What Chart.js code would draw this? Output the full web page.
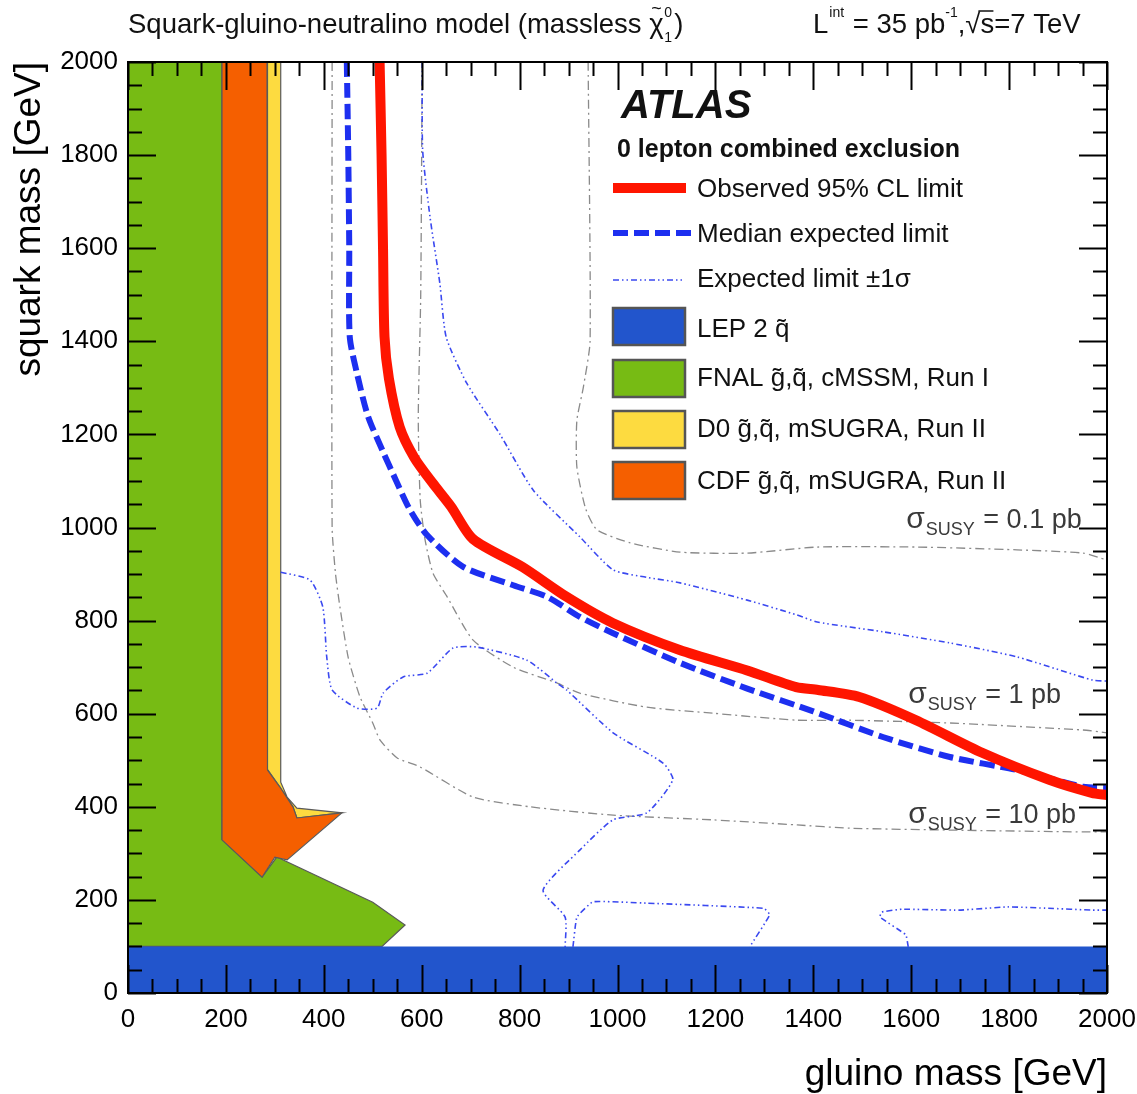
<!DOCTYPE html>
<html lang="en">
<head>
<meta charset="utf-8">
<script src="https://cdn.jsdelivr.net/npm/chart.js@4.4.0/dist/chart.umd.min.js"></script>
<style>
  body { margin: 0; background: #fff; }
</style>
</head>
<body>
<canvas id="c" width="1137" height="1094"></canvas>
<script>
// ---- data (gluino mass x, squark mass y, GeV) ----
// observed 95% CL limit
var obsX = [514, 518, 521, 524, 533, 555, 585, 622, 660, 705, 806, 896, 990, 1127, 1265, 1365, 1410, 1494, 1610, 1745, 1882, 1969, 2000];
var obsY = [2000, 1800, 1600, 1410, 1320, 1216, 1150, 1096, 1045, 975, 915, 851, 795, 737, 693, 657, 651, 636, 586, 516, 458, 430, 425];
// median expected limit
var expX = [447, 450, 452, 453, 468, 490, 520, 548, 575, 610, 684, 787, 856, 923, 991, 1128, 1265, 1400, 1542, 1679, 1816, 1951, 2000];
var expY = [2000, 1800, 1600, 1410, 1330, 1240, 1165, 1100, 1040, 985, 916, 876, 851, 808, 773, 709, 654, 605, 550, 507, 479, 443, 440];
// expected +1 sigma
var upX = [601, 602, 617, 637, 650, 692, 760, 828, 923, 991, 1060, 1128, 1265, 1367, 1408, 1542, 1679, 1816, 1971, 2000];
var upY = [2000, 1810, 1667, 1525, 1409, 1310, 1200, 1080, 980, 909, 893, 881, 844, 812, 797, 776, 752, 722, 672, 670];
// expected -1 sigma (three pieces)
var loX = [312, 372, 398, 406, 417, 468, 509, 521, 562, 611, 664, 713, 815, 876, 896, 991, 1093, 1113, 1060, 991, 923, 848, 893, 893];
var loY = [904, 887, 829, 722, 651, 612, 612, 644, 679, 687, 741, 743, 715, 666, 651, 559, 494, 458, 387, 372, 307, 221, 163, 99];
var lo2X = [909, 917, 950, 1060, 1299, 1311, 1270];
var lo2Y = [99, 163, 196, 193, 182, 168, 99];
var lo3X = [1594, 1589, 1536, 1540, 1581, 1698, 1797, 1880, 1971, 2000];
var lo3Y = [99, 125, 163, 174, 180, 178, 185, 182, 178, 178];
// cross-section contours
var xs10X = [417, 417, 424, 433, 450, 474, 500, 515, 550, 596, 705, 821, 991, 1195, 1367, 1475, 1679, 1951, 2000];
var xs10Y = [2000, 1000, 900, 829, 720, 636, 580, 543, 505, 486, 421, 400, 382, 372, 361, 354, 350, 346, 346];
var xs1X = [601, 598, 593, 597, 607, 623, 652, 705, 787, 876, 923, 1060, 1195, 1367, 1475, 1679, 1951, 2000];
var xs1Y = [2000, 1500, 1237, 1059, 973, 902, 851, 758, 700, 666, 644, 614, 601, 586, 586, 580, 565, 559];
var xs01X = [940, 944, 930, 917, 917, 935, 958, 1026, 1128, 1265, 1408, 1612, 1816, 1951, 2000];
var xs01Y = [2000, 1400, 1300, 1230, 1130, 1040, 995, 967, 947, 945, 958, 958, 952, 945, 930];
// excluded regions from earlier experiments
var lepX = [0, 2000, 2000, 0, 0];
var lepY = [0, 0, 100, 100, 0];
var fnalX = [0, 0, 192, 192, 274, 304, 500, 566, 519, 0];
var fnalY = [100, 2000, 2000, 329, 249, 292, 195, 146, 100, 100];
var d0X = [284, 312, 312, 325, 345, 437, 345, 337, 310, 286, 284, 284];
var d0Y = [2000, 2000, 453, 421, 397, 387, 376, 400, 443, 479, 550, 2000];
var cdfX = [192, 284, 284, 286, 310, 337, 345, 437, 325, 300, 274, 192, 192];
var cdfY = [2000, 2000, 550, 479, 443, 400, 376, 387, 286, 292, 249, 329, 2000];
var axisTicks = [0, 200, 400, 600, 800, 1000, 1200, 1400, 1600, 1800, 2000];

function pts(xs, ys) {
    return xs.map(function (x, i) { return {x: x, y: ys[i]}; });
}

var FONT = "'Liberation Sans', Arial, Helvetica, sans-serif";
Chart.defaults.font.family = FONT;

var cRed = '#ff1500', cBlue = '#1d2ff0', cSig = '#3a48f0', cGray = '#8a8a8a';
var cLep = '#2255cc', cFnal = '#77bb14', cD0 = '#fddb40', cCdf = '#f55f00';
var sigDash = [6, 3, 1.5, 3, 1.5, 3];

function lineSet(xs, ys, color, width, dash, tension) {
    return {data: pts(xs, ys), showLine: true, pointRadius: 0, borderColor: color,
        borderWidth: width, borderDash: dash || [], tension: tension || 0, fill: false, clip: 0};
}
function areaSet(xs, ys, color, border) {
    return {data: pts(xs, ys), showLine: true, pointRadius: 0, backgroundColor: color,
        borderColor: border ? '#5a5a5a' : color, borderWidth: border ? 1.2 : 0, fill: 'shape', clip: 0};
}

function sigmaLabel(ctx, x, y, val) {
    ctx.fillStyle = '#3a3a3a';
    ctx.textAlign = 'left';
    ctx.textBaseline = 'alphabetic';
    ctx.font = '30px ' + FONT;
    ctx.fillText('\u03c3', x, y);
    var w = ctx.measureText('\u03c3').width;
    ctx.font = '18px ' + FONT;
    ctx.fillText('SUSY', x + w + 1, y + 7);
    var w2 = ctx.measureText('SUSY').width;
    ctx.font = '27px ' + FONT;
    ctx.fillText(' = ' + val + ' pb', x + w + w2 + 2, y);
}

var overlay = {
    id: 'overlay',
    afterDatasetsDraw: function (chart) {
        var ctx = chart.ctx, a = chart.chartArea;
        var sx = chart.scales.x, sy = chart.scales.y;
        ctx.save();
        ctx.strokeStyle = '#000';
        ctx.lineWidth = 2;
        ctx.beginPath();
        for (var v = 0; v <= 2000; v += 50) {
            var len = v % 200 === 0 ? 28 : 14;
            var px = Math.round(sx.getPixelForValue(v)) + 0.5;
            var py = Math.round(sy.getPixelForValue(v)) + 0.5;
            ctx.moveTo(px, a.bottom); ctx.lineTo(px, a.bottom - len);
            ctx.moveTo(px, a.top); ctx.lineTo(px, a.top + len);
            ctx.moveTo(a.left, py); ctx.lineTo(a.left + len, py);
            ctx.moveTo(a.right, py); ctx.lineTo(a.right - len, py);
        }
        ctx.stroke();
        ctx.strokeRect(a.left, a.top, a.right - a.left, a.bottom - a.top);

        sigmaLabel(ctx, sx.getPixelForValue(1590), sy.getPixelForValue(999), '0.1');
        sigmaLabel(ctx, sx.getPixelForValue(1594), sy.getPixelForValue(623), '1');
        sigmaLabel(ctx, sx.getPixelForValue(1594), sy.getPixelForValue(365), '10');
        ctx.restore();
    },
    afterDraw: function (chart) {
        var ctx = chart.ctx;
        ctx.save();
        ctx.textAlign = 'left';
        ctx.textBaseline = 'alphabetic';
        ctx.fillStyle = '#111';

        // top titles
        ctx.font = '27.5px ' + FONT;
        var t = 'Squark-gluino-neutralino model (massless ';
        ctx.fillText(t, 128, 33);
        var x = 128 + ctx.measureText(t).width;
        ctx.fillText('\u03c7', x, 33);
        ctx.font = '18px ' + FONT;
        ctx.fillText('~', x + 2, 14);
        var cw = 15;
        ctx.font = '14px ' + FONT;
        ctx.fillText('0', x + cw, 17);
        ctx.fillText('1', x + cw, 42);
        ctx.font = '27.5px ' + FONT;
        ctx.fillText(')', x + cw + 10, 33);

        x = 813;
        ctx.fillText('L', x, 33); x += ctx.measureText('L').width + 1;
        ctx.font = '14px ' + FONT;
        ctx.fillText('int', x, 17); x += ctx.measureText('int').width + 1;
        ctx.font = '27.5px ' + FONT;
        t = ' = 35 pb';
        ctx.fillText(t, x, 33); x += ctx.measureText(t).width;
        ctx.font = '14px ' + FONT;
        ctx.fillText('-1', x, 17); x += ctx.measureText('-1').width;
        ctx.font = '27.5px ' + FONT;
        ctx.fillText(',\u221a', x, 33); x += ctx.measureText(',\u221a').width;
        ctx.beginPath(); ctx.lineWidth = 1.5; ctx.strokeStyle = '#111';
        ctx.moveTo(x - 2, 11); ctx.lineTo(x + 13, 11); ctx.stroke();
        ctx.fillText('s=7 TeV', x, 33);

        // legend
        ctx.font = 'italic bold 40px ' + FONT;
        ctx.fillText('ATLAS', 621, 118);
        ctx.font = 'bold 25px ' + FONT;
        ctx.fillText('0 lepton combined exclusion', 617, 157);

        ctx.beginPath(); ctx.strokeStyle = cRed; ctx.lineWidth = 10;
        ctx.moveTo(613, 188); ctx.lineTo(686, 188); ctx.stroke();
        ctx.beginPath(); ctx.strokeStyle = cBlue; ctx.lineWidth = 6; ctx.setLineDash([15, 6]);
        ctx.moveTo(613, 233); ctx.lineTo(693, 233); ctx.stroke();
        ctx.beginPath(); ctx.strokeStyle = cSig; ctx.lineWidth = 1.6; ctx.setLineDash(sigDash);
        ctx.moveTo(613, 280); ctx.lineTo(682, 280); ctx.stroke();
        ctx.setLineDash([]);

        var boxes = [[cLep, 308], [cFnal, 360], [cD0, 411], [cCdf, 462]];
        boxes.forEach(function (b) {
            ctx.fillStyle = b[0];
            ctx.fillRect(613, b[1], 72, 37);
            ctx.strokeStyle = '#555'; ctx.lineWidth = 2.5;
            ctx.strokeRect(613, b[1], 72, 37);
        });

        ctx.fillStyle = '#111';
        ctx.font = '26px ' + FONT;
        var labels = [
            ['Observed 95% CL limit', 197],
            ['Median expected limit', 242],
            ['Expected limit \u00b11\u03c3', 287],
            ['LEP 2 q\u0303', 337],
            ['FNAL g\u0303,q\u0303, cMSSM, Run I', 386],
            ['D0 g\u0303,q\u0303, mSUGRA, Run II', 437],
            ['CDF g\u0303,q\u0303, mSUGRA, Run II', 489]
        ];
        labels.forEach(function (l) { ctx.fillText(l[0], 697, l[1]); });
        ctx.restore();
    }
};

function plainLabel(v) { return String(v); }

var ctx = document.getElementById('c').getContext('2d');
var chart = new Chart(ctx, {
    type: 'scatter',
    data: {
        datasets: [
            lineSet(obsX, obsY, cRed, 10, [], 0.25),
            lineSet(expX, expY, cBlue, 6, [15, 6], 0.25),
            lineSet(upX, upY, cSig, 1.6, sigDash, 0.2),
            lineSet(loX, loY, cSig, 1.6, sigDash, 0.2),
            lineSet(lo2X, lo2Y, cSig, 1.6, sigDash, 0.1),
            lineSet(lo3X, lo3Y, cSig, 1.6, sigDash, 0.1),
            lineSet(xs10X, xs10Y, cGray, 1.3, [9, 4, 2, 4], 0.2),
            lineSet(xs1X, xs1Y, cGray, 1.3, [9, 4, 2, 4], 0.2),
            lineSet(xs01X, xs01Y, cGray, 1.3, [9, 4, 2, 4], 0.2),
            areaSet(lepX, lepY, cLep, false),
            areaSet(cdfX, cdfY, cCdf, true),
            areaSet(d0X, d0Y, cD0, true),
            areaSet(fnalX, fnalY, cFnal, true)
        ]
    },
    options: {
        responsive: false,
        animation: false,
        layout: {padding: {top: 62, right: 30, left: 0, bottom: 0}},
        plugins: {legend: {display: false}, tooltip: {enabled: false}},
        scales: {
            x: {
                type: 'linear', min: 0, max: 2000,
                afterFit: function (s) { s.height = 101; s.paddingLeft = 0; s.paddingRight = 0; },
                afterBuildTicks: function (s) { s.ticks = axisTicks.map(function (v) { return {value: v}; }); },
                grid: {display: false, drawTicks: false},
                border: {display: false},
                ticks: {color: '#000', font: {size: 26}, padding: 11, maxRotation: 0, autoSkip: false, callback: plainLabel},
                title: {display: true, text: 'gluino mass [GeV]', align: 'end', color: '#000',
                    font: {size: 37}, padding: {top: 0, bottom: -3}}
            },
            y: {
                type: 'linear', min: 0, max: 2000,
                afterFit: function (s) { s.width = 128; s.paddingTop = 0; s.paddingBottom = 0; },
                afterBuildTicks: function (s) { s.ticks = axisTicks.map(function (v) { return {value: v}; }); },
                grid: {display: false, drawTicks: false},
                border: {display: false},
                ticks: {color: '#000', font: {size: 26}, padding: 10, autoSkip: false, callback: plainLabel},
                title: {display: true, text: 'squark mass [GeV]', align: 'end', color: '#000',
                    font: {size: 37}, padding: {top: 8, bottom: 0}}
            }
        }
    },
    plugins: [overlay]
});
</script>
</body>
</html>
